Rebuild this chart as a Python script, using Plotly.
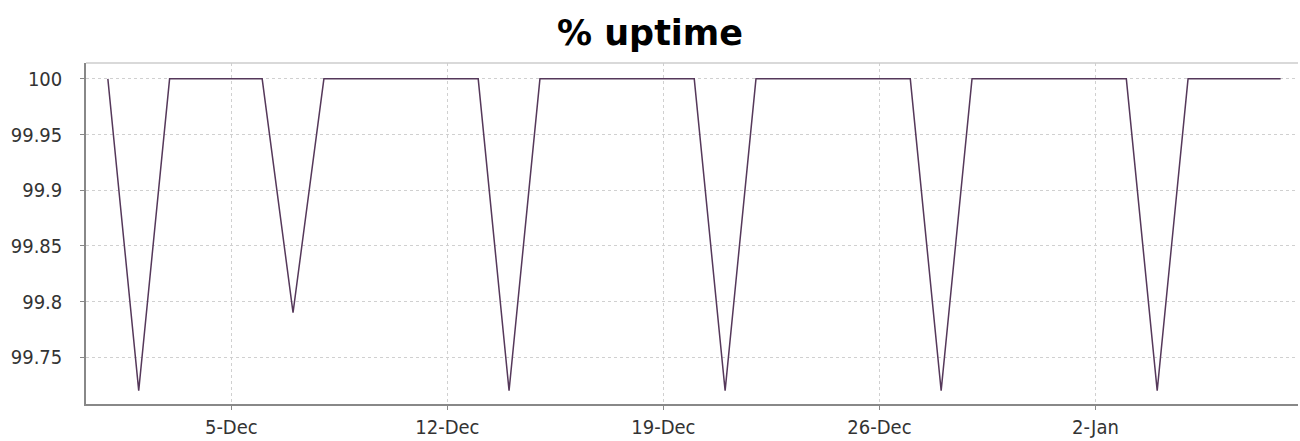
import plotly.graph_objects as go
import pandas as pd

# Data
dates = pd.date_range("2011-12-01", "2012-01-08", freq="D").strftime("%Y-%m-%d").tolist()
uptime = [100.0] * len(dates)
dips = {"2011-12-02": 99.72, "2011-12-07": 99.79, "2011-12-14": 99.72,
        "2011-12-21": 99.72, "2011-12-28": 99.72, "2012-01-04": 99.72}
uptime = [dips.get(d, v) for d, v in zip(dates, uptime)]

x_tick_vals = ["2011-12-05", "2011-12-12", "2011-12-19", "2011-12-26", "2012-01-02"]
x_tick_text = ["5-Dec", "12-Dec", "19-Dec", "26-Dec", "2-Jan"]
y_tick_vals = [99.75, 99.8, 99.85, 99.9, 99.95, 100.0]
y_tick_text = ["99.75", "99.8", "99.85", "99.9", "99.95", "100"]

TICK_FONT = dict(family="DejaVu Sans Condensed, DejaVu Sans", size=20, color="#333333")

fig = go.Figure()
fig.add_trace(go.Scatter(x=dates, y=uptime, mode="lines",
                         line=dict(color="#55385a", width=1.5), hoverinfo="x+y"))

fig.update_layout(
    width=1300, height=441,
    margin=dict(l=86, r=2, t=63, b=34),
    paper_bgcolor="white", plot_bgcolor="white",
    showlegend=False,
    title=dict(text="<b>% uptime</b>", x=0.5, xanchor="center", y=0.925, yanchor="middle",
               font=dict(family="DejaVu Sans", size=35, color="black")),
    font=dict(family="DejaVu Sans", size=14, color="#333333"),
)
fig.update_xaxes(
    type="date",
    range=["2011-11-30 07:00", "2012-01-08 13:30"],
    tickvals=x_tick_vals, ticktext=x_tick_text,
    showgrid=True, gridcolor="#d0d0d0", griddash="dot", gridwidth=1,
    showline=True, linecolor="#888888", linewidth=1.5,
    ticks="outside", ticklen=4, tickcolor="#888888",
    zeroline=False, tickfont=TICK_FONT,
)
fig.update_yaxes(
    range=[99.708, 100.0142],
    tickvals=y_tick_vals, ticktext=y_tick_text,
    showgrid=True, gridcolor="#d0d0d0", griddash="dot", gridwidth=1,
    showline=True, linecolor="#888888", linewidth=1.5,
    ticks="outside", ticklen=4, tickcolor="#888888",
    ticklabelstandoff=14,
    zeroline=False, tickfont=TICK_FONT,
)
fig.add_shape(type="line", xref="paper", yref="paper", x0=0, x1=1, y0=1, y1=1,
              line=dict(color="#cccccc", width=1.5))

fig.write_html("out.html", config={"displayModeBar": False},
               post_script="document.body.style.margin='0';")
